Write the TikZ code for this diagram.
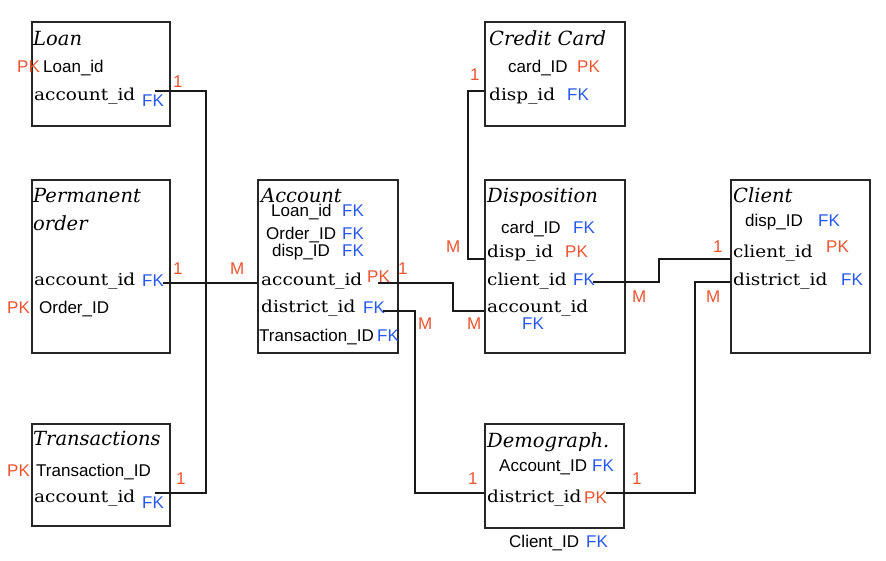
\documentclass[tikz,border=0pt]{standalone}
\usepackage{fontspec}
\newfontfamily\fldfam[FakeStretch=1.12]{DejaVu Serif}
\newfontfamily\ttlfam{DejaVu Serif}
\newfontfamily\sffam{Liberation Sans}
\definecolor{pkred}{RGB}{236,84,48}
\definecolor{fkblue}{RGB}{38,88,240}
\begin{document}
\begin{tikzpicture}[x=1pt,y=-1pt,
  box/.style={draw=black!85, line width=1.5pt, anchor=north west, inner sep=0pt},
  ttl/.style={anchor=base west, inner sep=0pt, font=\ttlfam\itshape\fontsize{19.5}{21}\selectfont},
  fld/.style={anchor=base west, inner sep=0pt, font=\fldfam\fontsize{16.5}{18}\selectfont},
  sf/.style={anchor=base west, inner sep=0pt, font=\sffam\fontsize{17}{19}\selectfont},
  pk/.style={sf, text=pkred},
  fk/.style={sf, text=fkblue},
  mult/.style={sf, text=pkred},
  conn/.style={line width=1.5pt, black!90}]
\useasboundingbox (0,0) rectangle (886,560);
% boxes
\node[box, minimum width=138pt, minimum height=104pt] (loan) at (31,21) {};
\node[box, minimum width=138pt, minimum height=173pt] (perm) at (31,179) {};
\node[box, minimum width=138pt, minimum height=102pt] (trans) at (31,423) {};
\node[box, minimum width=140pt, minimum height=173pt] (acc) at (257,179) {};
\node[box, minimum width=140pt, minimum height=104pt] (cc) at (484,21) {};
\node[box, minimum width=140pt, minimum height=173pt] (disp) at (484,179) {};
\node[box, minimum width=139pt, minimum height=173pt] (cli) at (730,179) {};
\node[box, minimum width=139pt, minimum height=104pt] (dem) at (484,423) {};
% Loan
\node[ttl] (loanT) at (33,45) {Loan};
\node[pk] (loanPK) at (17,72) {PK};
\node[sf] (loanId) at (43,72) {Loan\_id};
\node[fld] (loanAcc) at (34,100) {account\_id};
\node[fk] (loanFK) at (142,106) {FK};
% Permanent order
\node[ttl] (permT1) at (33,202) {Permanent};
\node[ttl] (permT2) at (33,230) {order};
\node[fld] (permAcc) at (34,285) {account\_id};
\node[fk] (permFK) at (142,286) {FK};
\node[pk] (permPK) at (7,313) {PK};
\node[sf] (permId) at (39,313) {Order\_ID};
% Transactions
\node[ttl] (transT) at (33,445) {Transactions};
\node[pk] (transPK) at (7,476) {PK};
\node[sf] (transId) at (36,476) {Transaction\_ID};
\node[fld] (transAcc) at (34,502) {account\_id};
\node[fk] (transFK) at (142,508) {FK};
% Account
\node[ttl] (accT) at (261,202) {Account};
\node[sf] (accLoan) at (271,216) {Loan\_id};
\node[fk] (accLoanFK) at (342,216) {FK};
\node[sf] (accOrd) at (266,239) {Order\_ID};
\node[fk] (accOrdFK) at (342,239) {FK};
\node[sf] (accDisp) at (272,256) {disp\_ID};
\node[fk] (accDispFK) at (342,256) {FK};
\node[fld] (accAcc) at (261,285) {account\_id};
\node[pk] (accPK) at (367,282) {PK};
\node[fld] (accDis) at (261,312) {district\_id};
\node[fk] (accDisFK) at (363,313) {FK};
\node[sf] (accTr) at (259,341) {Transaction\_ID};
\node[fk] (accTrFK) at (377,341) {FK};
% Credit Card
\node[ttl] (ccT) at (489,45) {Credit Card};
\node[sf] (ccId) at (508,72) {card\_ID};
\node[pk] (ccPK) at (577,72) {PK};
\node[fld] (ccDisp) at (489,100) {disp\_id};
\node[fk] (ccFK) at (567,100) {FK};
% Disposition
\node[ttl] (dispT) at (487,202) {Disposition};
\node[sf] (dispCard) at (501,233) {card\_ID};
\node[fk] (dispCardFK) at (573,233) {FK};
\node[fld] (dispId) at (487,257) {disp\_id};
\node[pk] (dispPK) at (565,257) {PK};
\node[fld] (dispCli) at (487,285) {client\_id};
\node[fk] (dispCliFK) at (573,285) {FK};
\node[fld] (dispAccF) at (487,312) {account\_id};
\node[fk] (dispAccFK) at (522,329) {FK};
% Client
\node[ttl] (cliT) at (733,202) {Client};
\node[sf] (cliDisp) at (745,226) {disp\_ID};
\node[fk] (cliDispFK) at (818,226) {FK};
\node[fld] (cliId) at (733,257) {client\_id};
\node[pk] (cliPK) at (826,252) {PK};
\node[fld] (cliDis) at (733,285) {district\_id};
\node[fk] (cliDisFK) at (841,285) {FK};
% Demograph.
\node[ttl] (demT) at (487,447) {Demograph.};
\node[sf] (demAcc) at (499,471) {Account\_ID};
\node[fk] (demAccFK) at (592,471) {FK};
\node[fld] (demDis) at (487,502) {district\_id};
\node[pk] (demPK) at (584,503) {PK};
\node[sf] (demCli) at (509,547) {Client\_ID};
\node[fk] (demCliFK) at (586,547) {FK};
% connector end points
\coordinate (loanA) at (155,91);
\coordinate (transA) at (155,493);
\coordinate (spine) at (206,0);
\coordinate (permA) at (163,283);
\coordinate (accL) at (257,283);
\coordinate (accA) at (378,283);
\coordinate (b3) at (453,0);
\coordinate (dispA) at (484,311);
\coordinate (accD) at (383,311);
\coordinate (b4) at (415,0);
\coordinate (demD) at (484,493);
\coordinate (ccD) at (484,91);
\coordinate (b5) at (468,0);
\coordinate (dispD) at (484,259);
\coordinate (dispC) at (593,282);
\coordinate (b6) at (659,0);
\coordinate (cliC) at (730,259);
\coordinate (cliD) at (730,282);
\coordinate (b7) at (695,0);
\coordinate (demP) at (606,493);
% connectors
\draw[conn] (loanA) -| (spine |- transA) -- (transA);
\draw[conn] (permA) -- (accL);
\draw[conn] (accA) -| (b3 |- dispA) -- (dispA);
\draw[conn] (accD) -| (b4 |- demD) -- (demD);
\draw[conn] (ccD) -| (b5 |- dispD) -- (dispD);
\draw[conn] (dispC) -| (b6 |- cliC) -- (cliC);
\draw[conn] (cliD) -| (b7 |- demP) -- (demP);
% multiplicities
\node[mult] (m1) at (173,87) {1};
\node[mult] (m2) at (173,274) {1};
\node[mult] (m3) at (230,274) {M};
\node[mult] (m4) at (176,484) {1};
\node[mult] (m5) at (398,274) {1};
\node[mult] (m6) at (418,329) {M};
\node[mult] (m7) at (470,80) {1};
\node[mult] (m8) at (446,252) {M};
\node[mult] (m9) at (467,329) {M};
\node[mult] (m10) at (632,302) {M};
\node[mult] (m11) at (713,252) {1};
\node[mult] (m12) at (706,302) {M};
\node[mult] (m13) at (468,484) {1};
\node[mult] (m14) at (632,484) {1};
\end{tikzpicture}
\end{document}
